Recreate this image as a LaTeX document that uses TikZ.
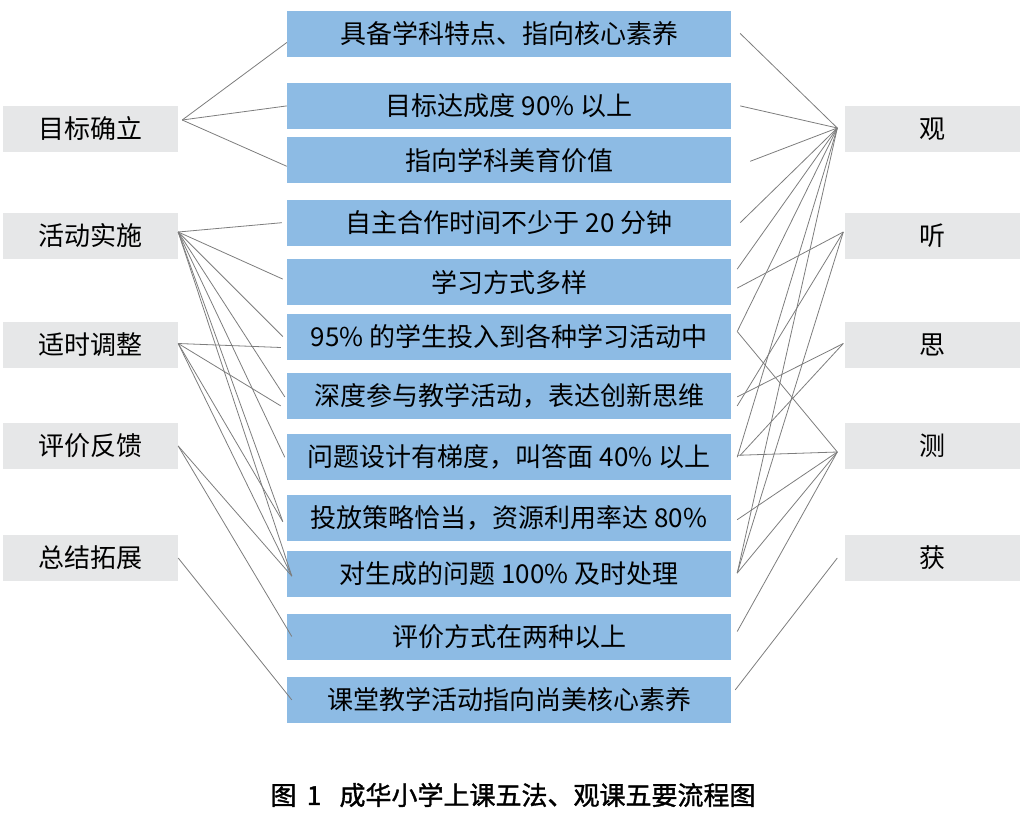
\documentclass[tikz,border=0pt]{standalone}
\usepackage{fontspec}
\setmainfont{Noto Sans CJK SC}
\newfontfamily\capfont[FakeBold=1.3]{Noto Sans CJK SC}
\usepackage{xcolor}
\usetikzlibrary{positioning,calc}

\definecolor{goalblue}{RGB}{141,187,228}
\definecolor{sidegray}{RGB}{230,231,232}
\definecolor{linkgray}{RGB}{125,125,125}

\begin{document}
\begin{tikzpicture}[
  x=1pt, y=-1pt,
  goal/.style={rectangle, fill=goalblue, minimum width=444pt, minimum height=46pt,
    inner sep=0pt, font=\fontsize{26}{30}\selectfont},
  side/.style={rectangle, fill=sidegray, minimum width=175pt, minimum height=46pt,
    inner sep=0pt, font=\fontsize{26}{30}\selectfont},
  link/.style={draw=linkgray, line width=0.8pt},
  caption/.style={font=\fontsize{26}{30}\selectfont\capfont}
]
\useasboundingbox (0,0) rectangle (1024,814);

% middle column
\node[goal] (C1) at (509,33.5) {具备学科特点、指向核心素养};
\node[goal, below=26pt of C1] (C2) {目标达成度 90\% 以上};
\node[goal, below=8pt of C2] (C3) {指向学科美育价值};
\node[goal, below=16pt of C3] (C4) {自主合作时间不少于 20 分钟};
\node[goal, below=13pt of C4] (C5) {学习方式多样};
\node[goal, below=8pt of C5] (C6) {95\% 的学生投入到各种学习活动中};
\node[goal, below=13pt of C6] (C7) {深度参与教学活动，表达创新思维};
\node[goal, below=15pt of C7] (C8) {问题设计有梯度，叫答面 40\% 以上};
\node[goal, below=14pt of C8] (C9) {投放策略恰当，资源利用率达 80\%};
\node[goal, below=10pt of C9] (C10) {对生成的问题 100\% 及时处理};
\node[goal, below=16pt of C10] (C11) {评价方式在两种以上};
\node[goal, below=17pt of C11] (C12) {课堂教学活动指向尚美核心素养};

% left column
\node[side] (L1) at (90.5,129) {目标确立};
\node[side] (L2) at (90.5,236) {活动实施};
\node[side] (L3) at (90.5,344.5) {适时调整};
\node[side] (L4) at (90.5,446) {评价反馈};
\node[side] (L5) at (90.5,558) {总结拓展};

% right column
\node[side] (R1) at (932,129) {观};
\node[side] (R2) at (932,236) {听};
\node[side] (R3) at (932,344.5) {思};
\node[side] (R4) at (932,446) {测};
\node[side] (R5) at (932,558) {获};

% fan points
\coordinate (l1) at ($(L1.east)+(4,-9)$);
\coordinate (l2) at ($(L2.east)+(0,-4)$);
\coordinate (l3) at ($(L3.east)+(0,-1)$);
\coordinate (l4) at (L4.east);
\coordinate (l5) at (L5.east);
\coordinate (r1) at ($(R1.west)+(-7,-1)$);
\coordinate (r2) at ($(R2.west)+(-1,-4)$);
\coordinate (r3) at ($(R3.west)+(-1,-1)$);
\coordinate (r4) at ($(R4.west)+(-7,6)$);
\coordinate (r5) at ($(R5.west)+(-7,0)$);

% left links
\foreach \b/\dx/\dy in {C1/0/9, C2/0/0, C3/0/6}
  \draw[link] (l1) -- ($(\b.west)+(\dx,\dy)$);
\foreach \b/\dx/\dy in {C4/-5/0, C5/-4/-3, C6/-4/0, C7/-2/1, C8/-2/0, C9/-4/4, C10/5/2}
  \draw[link] (l2) -- ($(\b.west)+(\dx,\dy)$);
\foreach \b/\dx/\dy in {C6/-6/11, C7/-6/10, C9/-4/4, C10/5/2}
  \draw[link] (l3) -- ($(\b.west)+(\dx,\dy)$);
\foreach \b/\dx/\dy in {C10/5/2, C11/5/0}
  \draw[link] (l4) -- ($(\b.west)+(\dx,\dy)$);
\draw[link] (l5) -- ($(C12.west)+(5,0)$);

% right links
\foreach \b/\dx/\dy in {C1/9/0, C2/9/0, C3/19/1, C4/9/0, C5/6/-13, C6/6/-5, C8/6/0, C10/6/-1}
  \draw[link] (r1) -- ($(\b.east)+(\dx,\dy)$);
\foreach \b/\dx/\dy in {C5/6/6, C7/6/10, C10/6/-1}
  \draw[link] (r2) -- ($(\b.east)+(\dx,\dy)$);
\foreach \b/\dx/\dy in {C7/6/1, C8/9/-2}
  \draw[link] (r3) -- ($(\b.east)+(\dx,\dy)$);
\foreach \b/\dx/\dy in {C6/6/-5, C8/6/-2, C9/6/2, C10/6/-1, C11/6/-5}
  \draw[link] (r4) -- ($(\b.east)+(\dx,\dy)$);
\draw[link] (r5) -- ($(C12.east)+(4,-10)$);

\node[caption] (cap) at (513,795) {图\hspace{0.4em}1\hspace{0.7em}成华小学上课五法、观课五要流程图};
\end{tikzpicture}
\end{document}
